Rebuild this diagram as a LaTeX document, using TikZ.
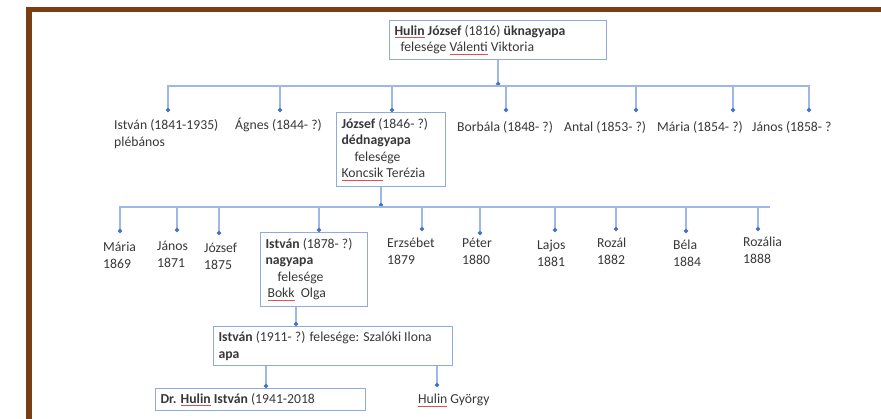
\documentclass[tikz,border=0pt]{standalone}
\usepackage{fontspec}
\setmainfont{Carlito}
\usetikzlibrary{arrows.meta}
\definecolor{brn}{HTML}{7A3E12}
\definecolor{lineblue}{HTML}{9DB7E6}
\definecolor{boxblue}{HTML}{8FAADC}
\definecolor{dotblue}{HTML}{4472C4}
\definecolor{txt}{HTML}{383838}
\definecolor{spellred}{HTML}{E05050}
\newsavebox{\splbx}
\newcommand{\spl}[1]{\leavevmode\sbox{\splbx}{#1}\rlap{\textcolor{spellred}{\rule[-2.8pt]{\wd\splbx}{0.8pt}}}#1}
\newcommand{\hstrt}{\rule{0pt}{12pt}}
\begin{document}
\begin{tikzpicture}[x=1pt,y=-1pt,
  every node/.style={font=\fontsize{13.7}{16.5}\selectfont, text=txt},
  bx/.style={draw=boxblue, line width=1.1pt, anchor=north west, inner xsep=5pt, inner ysep=0pt, align=flush left},
  ch/.style={anchor=north west, inner sep=0pt, align=left},
  cn/.style={draw=lineblue, line width=1.3pt},
  cnd/.style={cn, -{Circle[length=4.2pt,color=dotblue]}},
  cndd/.style={cn, {Circle[length=4.2pt,color=dotblue]}-{Circle[length=4.2pt,color=dotblue]}}]

\useasboundingbox (0,0) rectangle (881,419);
\fill[white] (0,0) rectangle (881,419);
\fill[brn] (26,7.5) rectangle (881,12.5);
\fill[brn] (26,7.5) rectangle (31.5,419);

% boxes
\node[bx, text width=207pt, minimum height=39pt] (top) at (389,20)
  {{\bfseries\spl{Hulin} József} (1816) \textbf{üknagyapa}\\\hspace*{6pt}felesége \spl{Válenti} Viktoria};
\node[bx, text width=99pt, minimum height=74pt] (jozsef) at (336,112)
  {\textbf{József} (1846- ?)\\\textbf{dédnagyapa}\\\hspace*{13pt}felesége\\\spl{Koncsik} Terézia};
\node[bx, text width=97pt, minimum height=74pt] (istvan) at (260,232)
  {\textbf{István} (1878- ?)\\\textbf{nagyapa}\\\hspace*{12pt}felesége\\\hspace*{2pt}\spl{Bokk}\ \ Olga};
\node[bx, text width=229pt, minimum height=39pt] (apa) at (213,326)
  {\textbf{István} (1911- ?) felesége: Szalóki Ilona\\\textbf{apa}};
\node[bx, text width=200pt, minimum height=22pt] (dr) at (155,388)
  {\textbf{Dr. \spl{Hulin} István} (1941-2018};

% first generation children
\node[ch] (s1) at (114,117.5) {\hstrt István (1841-1935)\\plébános};
\node[ch] (s2) at (235,117.5) {\hstrt Ágnes (1844- ?)};
\node[ch] (s4) at (457,119) {\hstrt Borbála (1848- ?)};
\node[ch] (s5) at (564,119) {\hstrt Antal (1853- ?)};
\node[ch] (s6) at (657,119) {\hstrt Mária (1854- ?)};
\node[ch] (s7) at (752,119) {\hstrt János (1858- ?};

% second generation children
\node[ch] (g1) at (103,239.5) {\hstrt Mária\\1869};
\node[ch] (g2) at (157,238.5) {\hstrt János\\1871};
\node[ch] (g3) at (204,240.5) {\hstrt József\\1875};
\node[ch] (g5) at (387,235.5) {\hstrt Erzsébet\\1879};
\node[ch] (g6) at (462,235.5) {\hstrt Péter\\1880};
\node[ch] (g7) at (537,237.5) {\hstrt Lajos\\1881};
\node[ch] (g8) at (597,235.5) {\hstrt Rozál\\1882};
\node[ch] (g9) at (673,237.5) {\hstrt Béla\\1884};
\node[ch] (g10) at (743,234.5) {\hstrt Rozália\\1888};

\node[ch] (gy) at (418,391.5) {\hstrt \spl{Hulin} György};

% level 1 connectors
\coordinate (j1) at (497,86);
\coordinate (e11) at (168,112);
\coordinate (e12) at (280,112);
\coordinate (e13) at (392,112);
\coordinate (e14) at (506,112);
\coordinate (e15) at (636,112);
\coordinate (e16) at (733,112);
\coordinate (e17) at (809,112);
\draw[cnd] (top.south) -- (top.south |- j1);
\draw[cndd] (e11) -- (e11 |- j1) -- (e17 |- j1) -- (e17);
\foreach \e in {e12,e13,e14,e15,e16} \draw[cnd] (\e |- j1) -- (\e);

% level 2 connectors
\coordinate (j2) at (381,207);
\coordinate (r2) at (770,207);
\coordinate (e21) at (120,233);
\coordinate (e22) at (177,232);
\coordinate (e23) at (219,235);
\coordinate (e24) at (319,232);
\coordinate (e25) at (422,231);
\coordinate (e26) at (480,235);
\coordinate (e27) at (555,232);
\coordinate (e28) at (616,231);
\coordinate (e29) at (686,233);
\coordinate (e30) at (758,231);
\draw[cnd] (jozsef.south -| j2) -- (j2);
\draw[cnd] (r2) -- (e21 |- j2) -- (e21);
\foreach \e in {e22,e23,e24,e25,e26,e27,e28,e29,e30} \draw[cnd] (\e |- j2) -- (\e);

% level 3 and 4 connectors
\coordinate (j3) at (296,0);
\draw[cnd] (istvan.south -| j3) -- (apa.north -| j3);
\coordinate (k1) at (266,0);
\coordinate (k2) at (437,387);
\draw[cnd] (apa.south -| k1) -- (dr.north -| k1);
\draw[cnd] (apa.south -| k2) -- (k2);
\end{tikzpicture}
\end{document}
